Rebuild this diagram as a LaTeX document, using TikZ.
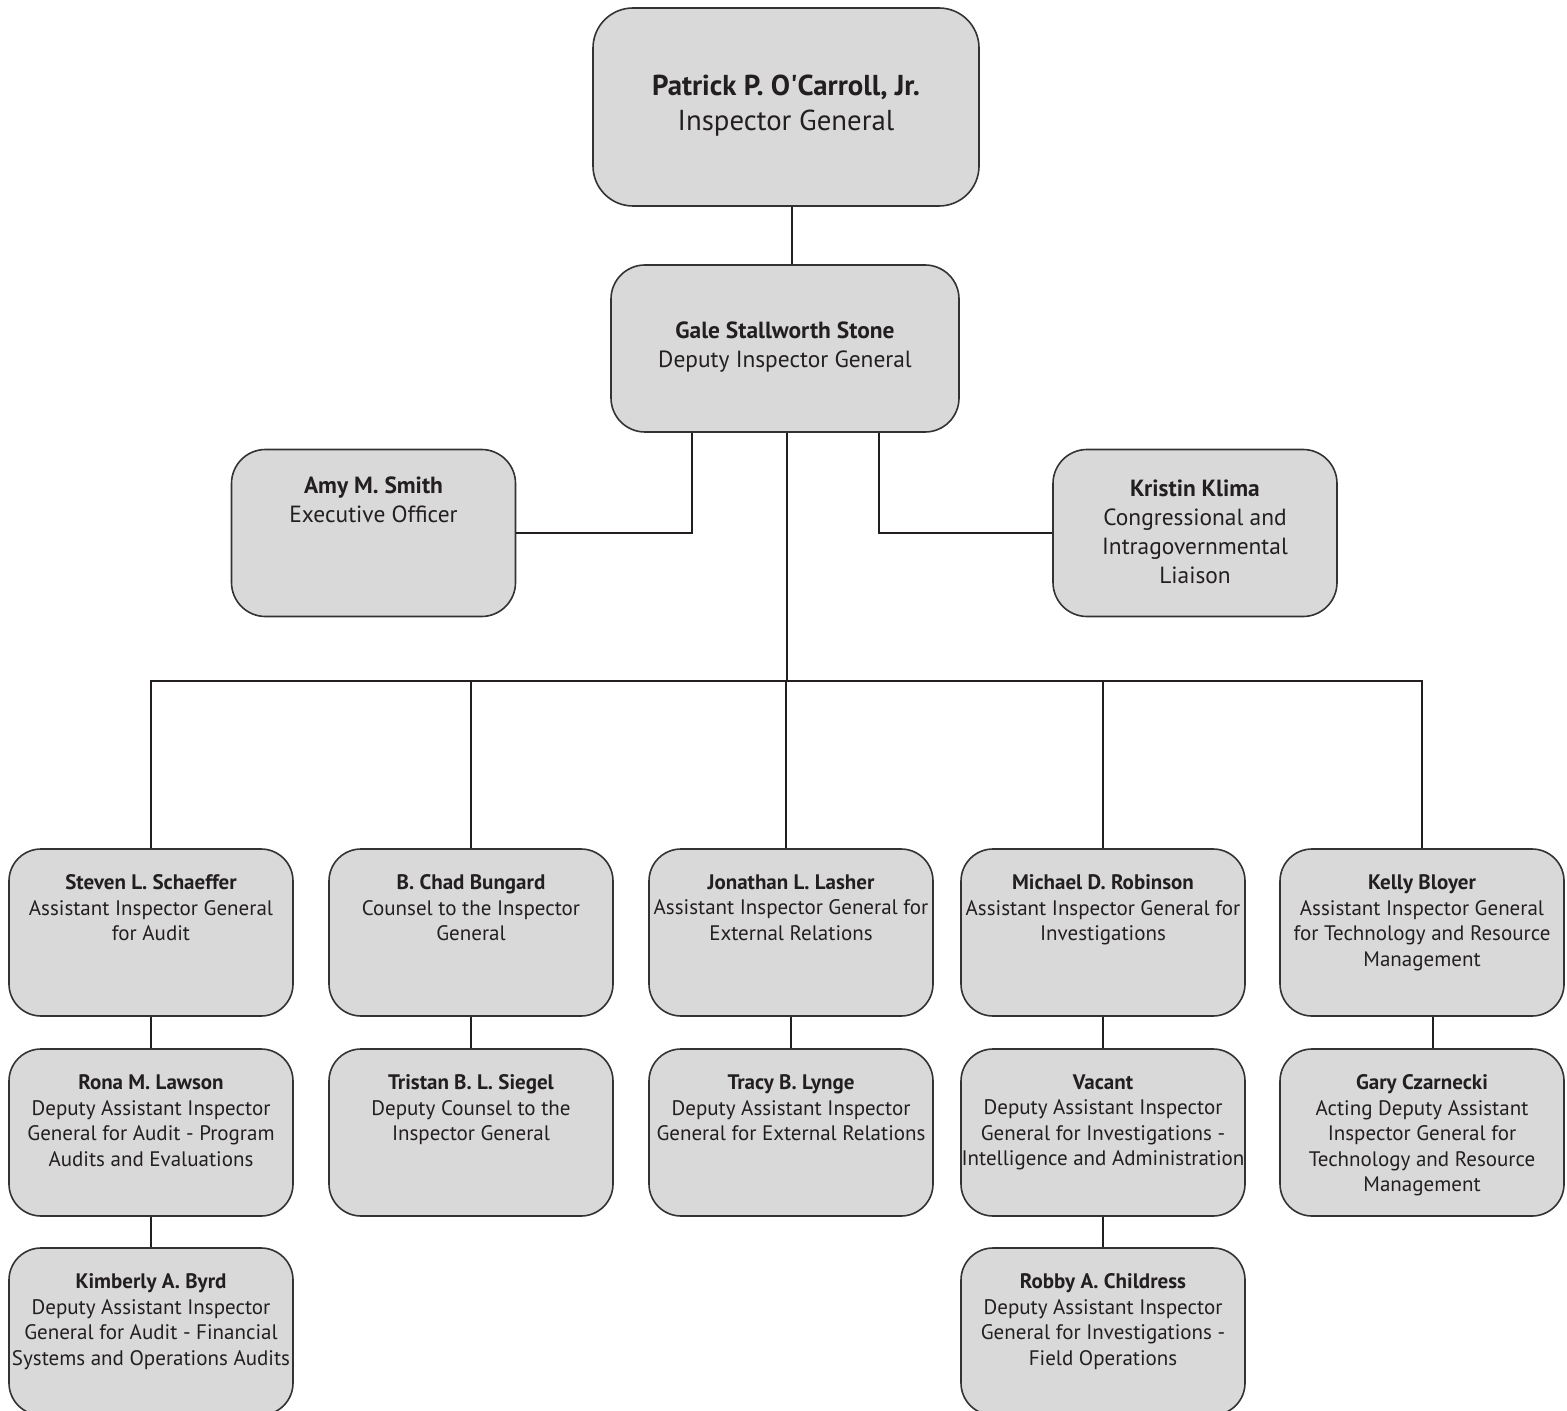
\documentclass[tikz,border=0pt]{standalone}
\usepackage{fontspec}
\setmainfont{PT Sans}
\usetikzlibrary{positioning}
\definecolor{boxgray}{HTML}{D9D9D9}
\definecolor{edgegray}{HTML}{333333}
\definecolor{inkgray}{HTML}{231F20}
\tikzset{
  box/.style={draw=edgegray,fill=boxgray,line width=0.8pt,rounded corners=16pt,
    minimum width=142pt,minimum height=83.5pt,inner sep=0pt},
  midbox/.style={box,rounded corners=17pt},
  topbox/.style={box,rounded corners=20pt,minimum width=193pt,minimum height=99pt},
  txt/.style={align=center,inner sep=0pt,text=inkgray,font=\fontsize{10.5}{12.75}\selectfont},
  midtxt/.style={txt,font=\fontsize{11.7}{14.5}\selectfont},
  toptxt/.style={txt,font=\fontsize{14.4}{17.5}\selectfont},
  link/.style={draw=inkgray,line width=1.2pt}
}
\begin{document}
\begin{tikzpicture}[x=0.5pt,y=-0.5pt]
\useasboundingbox (0,0) rectangle (1567,1411);
\clip (0,0) rectangle (1567,1411);
% top of the chart
\node[topbox] (ig) at (786,107) {};
\node[toptxt,below=33.5pt of ig.north] (ig-t) {\textbf{Patrick P. O\textquotesingle Carroll, Jr.}\\Inspector General};
\node[midbox,minimum width=174pt] (dig) at (785,348.5) {};
\node[midtxt,below=28.5pt of dig.north] (dig-t) {\textbf{Gale Stallworth Stone}\\Deputy Inspector General};
\node[midbox] (ams) at (373.5,533) {};
\node[midtxt,below=14pt of ams.north] (ams-t) {\textbf{Amy M. Smith}\\Executive Officer};
\node[midbox] (kk) at (1195,533) {};
\node[midtxt,below=15.5pt of kk.north] (kk-t) {\textbf{Kristin Klima}\\Congressional and\\Intragovernmental\\Liaison};
% first row
\node[box] (ss) at (151,932.5) {};
\node[txt,below=13pt of ss.north] (ss-t) {\textbf{Steven L. Schaeffer}\\Assistant Inspector General\\for Audit};
\node[box] (cb) at (471,932.5) {};
\node[txt,below=13pt of cb.north] (cb-t) {\textbf{B. Chad Bungard}\\Counsel to the Inspector\\General};
\node[box] (jl) at (791,932.5) {};
\node[txt,below=13pt of jl.north] (jl-t) {\textbf{Jonathan L. Lasher}\\Assistant Inspector General for\\External Relations};
\node[box] (mr) at (1103,932.5) {};
\node[txt,below=13pt of mr.north] (mr-t) {\textbf{Michael D. Robinson}\\Assistant Inspector General for\\Investigations};
\node[box] (kbl) at (1422,932.5) {};
\node[txt,below=13pt of kbl.north] (kbl-t) {\textbf{Kelly Bloyer}\\Assistant Inspector General\\for Technology and Resource\\Management};
% second row
\node[box] (rl) at (151,1132.5) {};
\node[txt,below=13pt of rl.north] (rl-t) {\textbf{Rona M. Lawson}\\Deputy Assistant Inspector\\General for Audit - Program\\Audits and Evaluations};
\node[box] (ts) at (471,1132.5) {};
\node[txt,below=13pt of ts.north] (ts-t) {\textbf{Tristan B. L. Siegel}\\Deputy Counsel to the\\Inspector General};
\node[box] (tl) at (791,1132.5) {};
\node[txt,below=13pt of tl.north] (tl-t) {\textbf{Tracy B. Lynge}\\Deputy Assistant Inspector\\General for External Relations};
\node[box] (vac) at (1103,1132.5) {};
\node[txt,below=13pt of vac.north] (vac-t) {\textbf{Vacant}\\Deputy Assistant Inspector\\General for Investigations -\\Intelligence and Administration};
\node[box] (gc) at (1422,1132.5) {};
\node[txt,below=13pt of gc.north] (gc-t) {\textbf{Gary Czarnecki}\\Acting Deputy Assistant\\Inspector General for\\Technology and Resource\\Management};
% third row
\node[box] (kb) at (151,1331.5) {};
\node[txt,below=13pt of kb.north] (kb-t) {\textbf{Kimberly A. Byrd}\\Deputy Assistant Inspector\\General for Audit - Financial\\Systems and Operations Audits};
\node[box] (rc) at (1103,1331.5) {};
\node[txt,below=13pt of rc.north] (rc-t) {\textbf{Robby A. Childress}\\Deputy Assistant Inspector\\General for Investigations -\\Field Operations};
% connectors
\coordinate (bus) at (787,681);
\draw[link] ([xshift=3pt]ig.south) -- ([xshift=3pt]ig.south |- dig.north);
\draw[link] ([xshift=-46.5pt]dig.south) |- (ams.east);
\draw[link] ([xshift=47pt]dig.south) |- (kk.west);
\draw[link] (dig.south -| bus) -- (bus);
\draw[link] (ss.north) |- (bus);
\draw[link] (cb.north) |- (bus);
\draw[link] ([xshift=-2.5pt]jl.north) |- (bus);
\draw[link] (mr.north) |- (bus);
\draw[link] (kbl.north) |- (bus);
\draw[link] (ss.south) -- (rl.north);
\draw[link] (cb.south) -- (ts.north);
\draw[link] (jl.south) -- (tl.north);
\draw[link] (mr.south) -- (vac.north);
\draw[link] ([xshift=5.5pt]kbl.south) -- ([xshift=5.5pt]gc.north);
\draw[link] (rl.south) -- (kb.north);
\draw[link] (vac.south) -- (rc.north);
\end{tikzpicture}
\end{document}
